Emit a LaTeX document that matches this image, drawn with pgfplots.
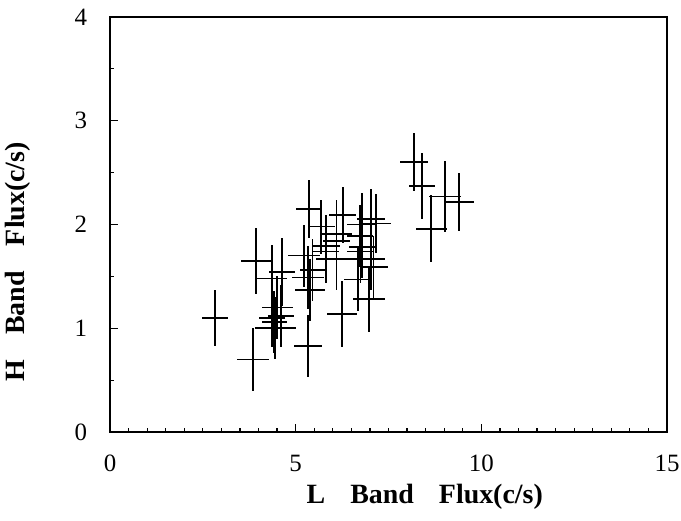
\documentclass[border=0pt]{standalone}
\usepackage{fontspec}
\setmainfont{Liberation Serif}
\usepackage{pgfplots}
\usepackage{pgfplotstable}
\pgfplotsset{compat=1.18}
\pgfplotstableread{
x y ex ey
2.83 1.10 0.35 0.27
3.85 0.70 0.42 0.30
3.93 1.65 0.40 0.32
4.36 1.10 0.36 0.28
4.42 1.06 0.34 0.30
4.45 1.00 0.55 0.30
4.50 1.20 0.42 0.30
4.37 1.48 0.40 0.32
4.63 1.54 0.35 0.33
4.60 1.12 0.35 0.30
5.33 0.83 0.38 0.30
5.36 2.15 0.35 0.28
5.22 1.70 0.43 0.30
5.33 1.49 0.42 0.30
5.39 1.37 0.40 0.30
5.45 1.56 0.34 0.30
5.69 1.98 0.36 0.26
5.82 1.79 0.38 0.30
5.82 1.74 0.34 0.30
6.10 1.91 0.42 0.33
6.10 1.84 0.36 0.32
6.27 2.09 0.36 0.27
6.10 1.67 0.54 0.30
6.25 1.14 0.40 0.32
6.79 2.00 0.40 0.30
6.73 1.89 0.35 0.30
6.79 1.78 0.36 0.30
6.75 1.74 0.36 0.30
7.03 1.67 0.38 0.30
7.10 1.59 0.38 0.30
6.68 1.47 0.37 0.30
6.97 1.28 0.43 0.32
7.03 2.05 0.38 0.29
7.17 2.01 0.39 0.28
8.19 2.60 0.38 0.28
8.40 2.37 0.36 0.32
8.65 1.96 0.42 0.32
9.02 2.27 0.43 0.34
9.40 2.22 0.40 0.28
}\datatable
\begin{document}
\begin{tikzpicture}
\begin{axis}[
  scale only axis, width=278.5bp, height=207.5bp,
  xmin=0, xmax=15, ymin=0, ymax=4,
  xtick={0,5,10,15}, ytick={0,1,2,3,4},
  minor x tick num=9, minor y tick num=1,
  tick align=inside, xtick pos=bottom, ytick pos=left,
  major tick length=4bp, minor tick length=2bp,
  tick style={black, line width=0.6bp},
  axis line style={line width=0.7bp},
  /pgf/number format/assume math mode=true,
  ticklabel style={font=\fontsize{12.5}{14}\selectfont},
  xticklabel style={yshift=-8bp},
  yticklabel style={xshift=-8bp},
  xlabel={\textbf{L\hspace{0.9em}Band\hspace{0.9em}Flux(c/s)}},
  ylabel={\textbf{H\hspace{0.9em}Band\hspace{0.9em}Flux(c/s)}},
  label style={font=\fontsize{14}{16}\selectfont},
  xlabel style={at={(axis description cs:0.565,-0.157)}, anchor=center},
  ylabel style={at={(axis description cs:-0.165,0.41)}, anchor=center},
]
\addplot[draw=none, mark=none,
  error bars/.cd, x dir=both, x explicit, y dir=both, y explicit,
  error mark=none, error bar style={draw=black, line width=0.85bp}]
  table[x=x, y=y, x error=ex, y error=ey] {\datatable};
\coordinate (sw) at (rel axis cs:0,0);
\coordinate (ne) at (rel axis cs:1,1);
\end{axis}
\pgfresetboundingbox
\path ([shift={(-55bp,-44.5bp)}]sw) rectangle ([shift={(7bp,8.5bp)}]ne);
\end{tikzpicture}
\end{document}
